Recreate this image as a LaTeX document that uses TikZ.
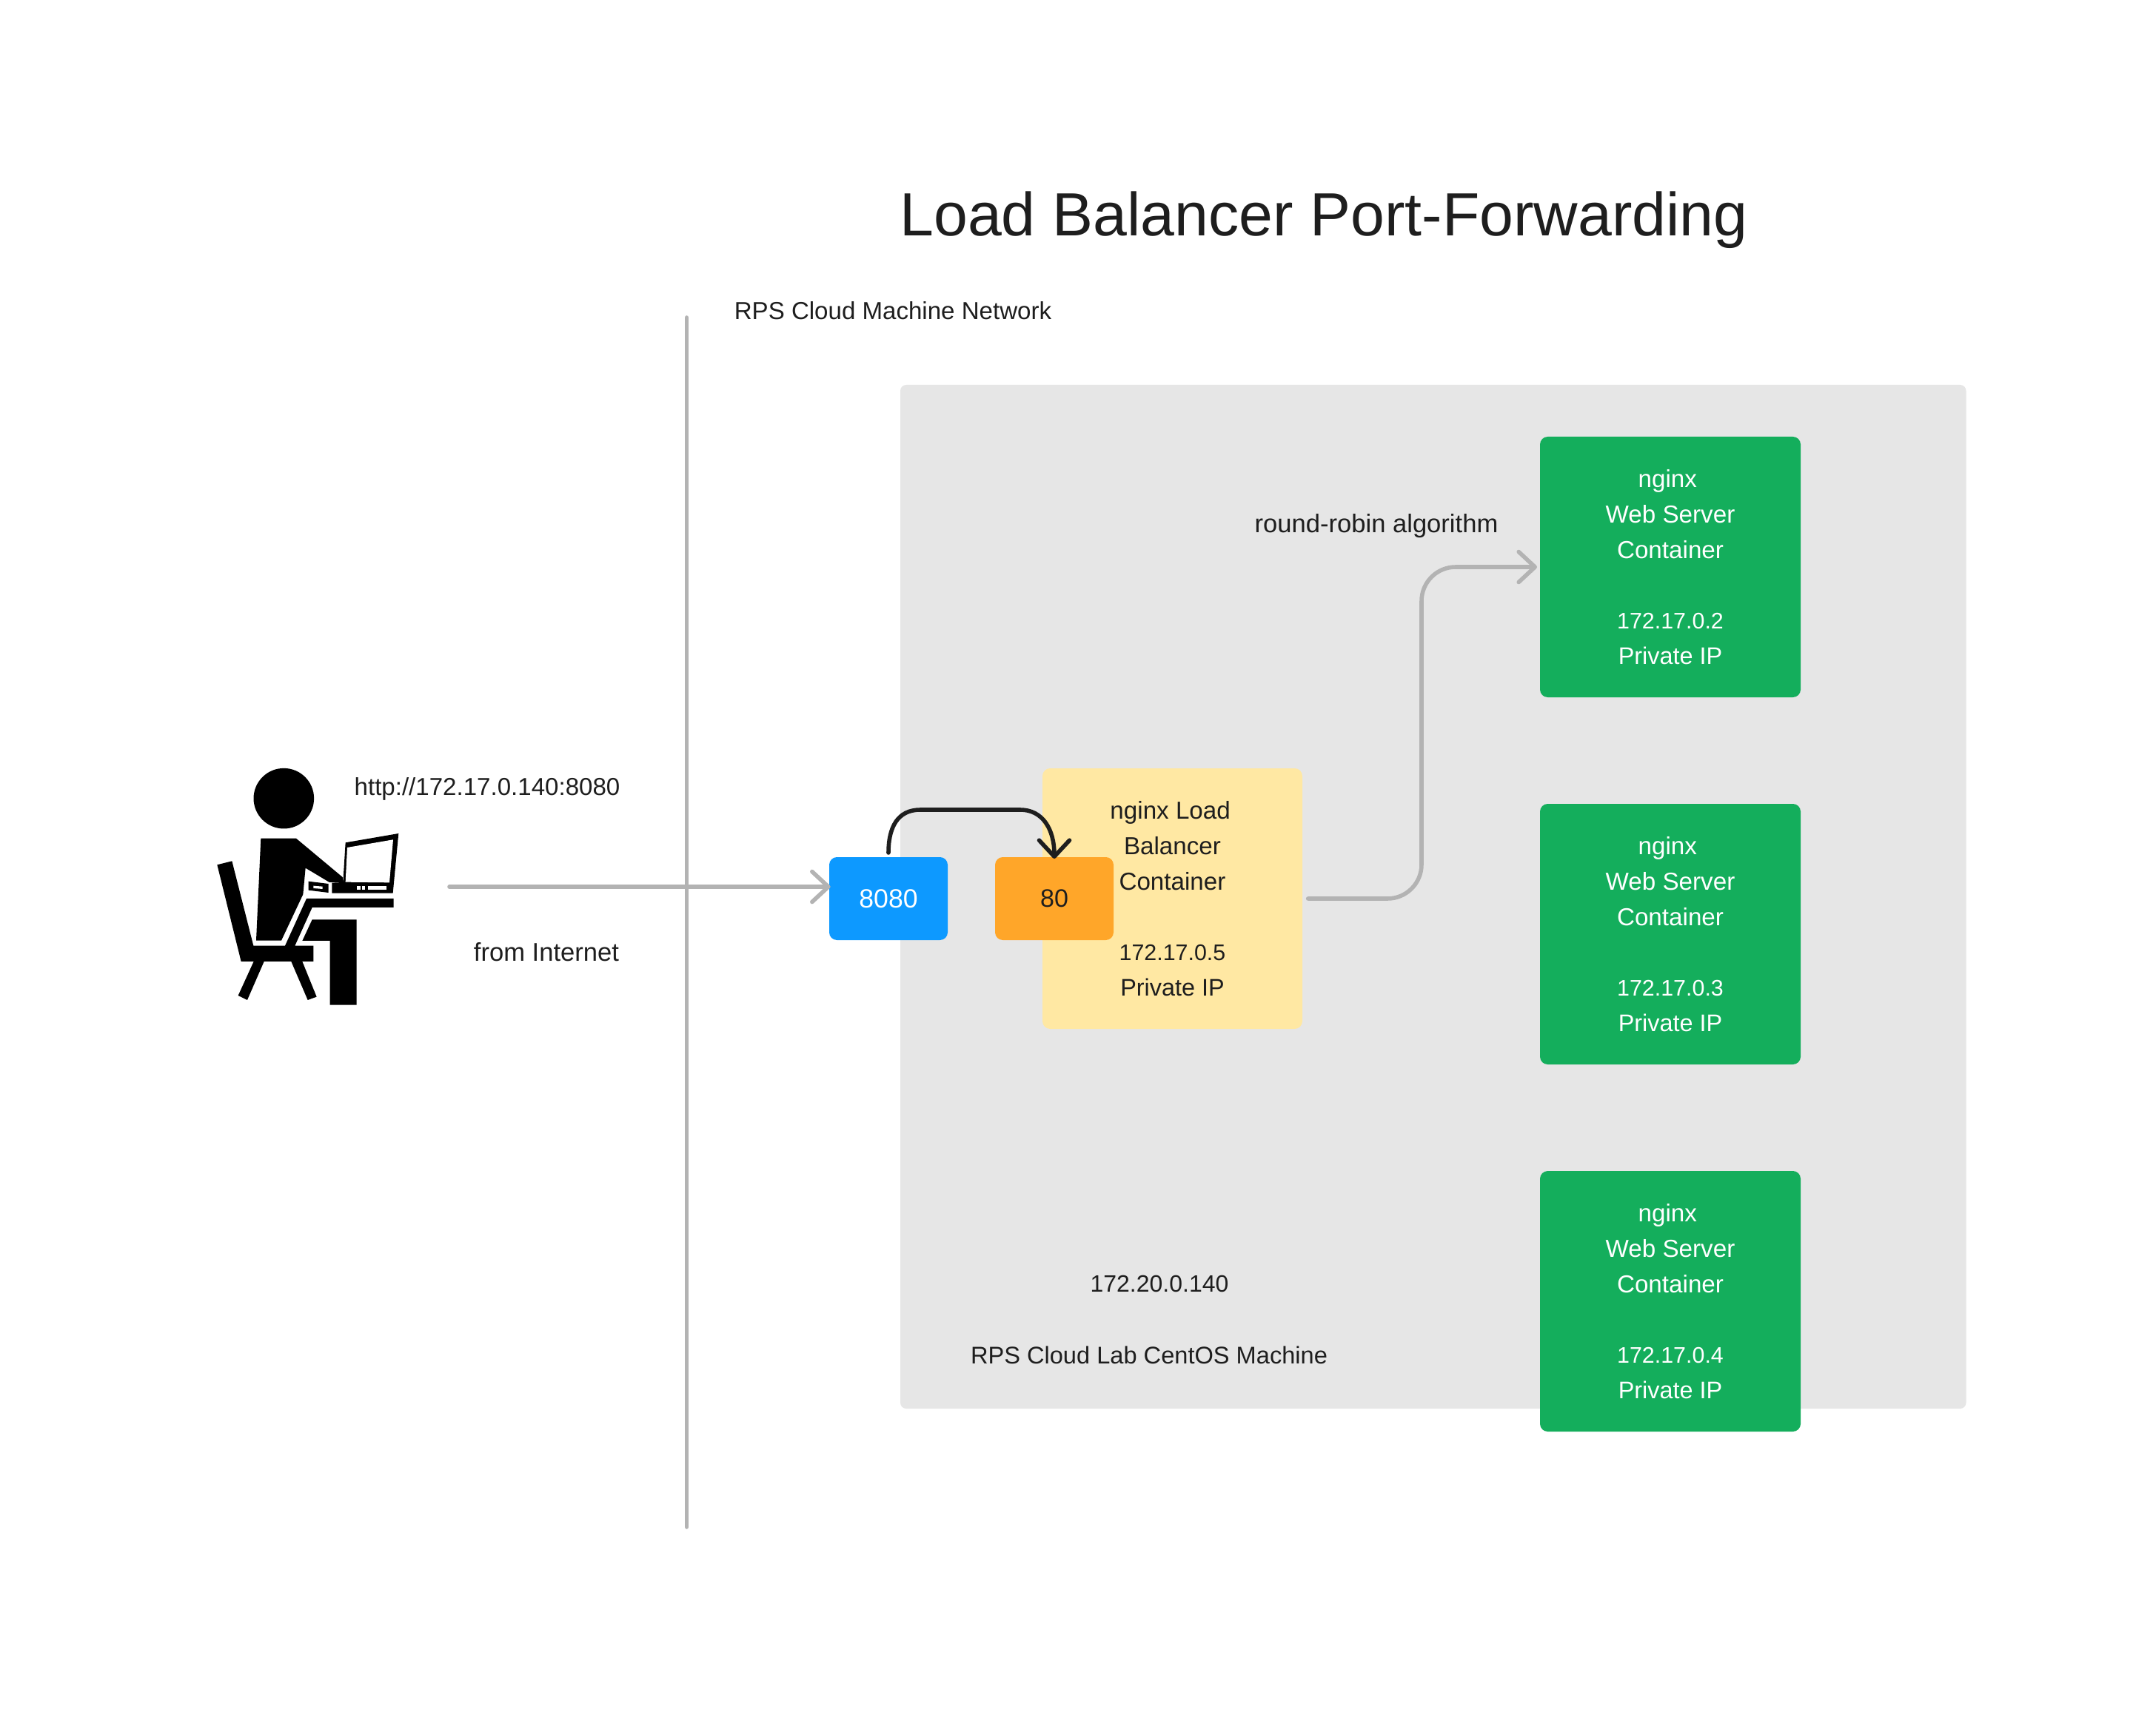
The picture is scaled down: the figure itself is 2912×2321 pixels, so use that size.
\documentclass[tikz,border=0pt]{standalone}
\usepackage{fontspec}
\setmainfont{Liberation Sans}
\usetikzlibrary{arrows.meta}
\definecolor{panel}{HTML}{E6E6E6}
\definecolor{wire}{HTML}{B3B3B3}
\definecolor{ink}{HTML}{1E1E1E}
\definecolor{greenbox}{HTML}{14AE5C}
\definecolor{bluebox}{HTML}{0D99FF}
\definecolor{orangebox}{HTML}{FFA629}
\definecolor{yellowbox}{HTML}{FFE8A3}
\newcommand{\ipline}[1]{{\fontsize{7.6}{11.93}\selectfont #1}}
\newcommand{\privline}{{\fontsize{8.1}{11.93}\selectfont Private IP}}
\tikzset{
  x=0.25pt,y=-0.25pt,
  barb/.tip={Straight Barb[length=5.5pt,width=10.25pt,line cap=round,round]},
  wirepath/.style={draw=wire,line width=1.39pt,line cap=round,line join=round},
  inkpath/.style={draw=ink,line width=1.39pt,line cap=round,line join=round},
  boxbase/.style={inner sep=0pt,outer sep=0pt,rounded corners=2.6pt,align=center,
    font=\fontsize{8.3}{11.93}\selectfont},
  greenstyle/.style={boxbase,fill=greenbox,text=white,minimum width=88pt,minimum height=88pt},
  yellowstyle/.style={boxbase,fill=yellowbox,text=ink,minimum width=87.75pt,minimum height=88pt},
  portstyle/.style={boxbase,minimum width=40pt,minimum height=28pt},
  labelstyle/.style={inner sep=0pt,anchor=base,text=ink,font=\fontsize{8.27}{9}\selectfont},
  iplabelstyle/.style={labelstyle,font=\fontsize{8.0}{9}\selectfont},
  widelabelstyle/.style={labelstyle,font=\fontsize{8.65}{9}\selectfont},
  lablabelstyle/.style={labelstyle,font=\fontsize{8.15}{9}\selectfont},
  titlestyle/.style={inner sep=0pt,anchor=base,text=ink,font=\fontsize{20.6}{28}\selectfont},
  figure/.style={fill=black,draw=none}
}
\begin{document}
\begin{tikzpicture}
\useasboundingbox (0,0) rectangle (2912,2321);
\fill[white] (0,0) rectangle (2912,2321);

% panel and network line
\node[fill=panel,rounded corners=2pt,inner sep=0pt,minimum width=359.875pt,minimum height=345.75pt] (machine) at (1935.75,1211.5) {};
\coordinate (nettop) at (927.5,429);
\coordinate (netbot) at (927.5,2063);
\draw[wirepath] (nettop) -- (netbot);

% text labels
\node[titlestyle] (title) at (1788,319) {Load Balancer Port-Forwarding};
\node[labelstyle] (netlabel) at (1206,432) {RPS Cloud Machine Network};
\node[widelabelstyle] (rrlabel) at (1859,719) {round-robin algorithm};
\node[labelstyle] (urllabel) at (658,1074) {http://172.17.0.140:8080};
\node[widelabelstyle] (fromlabel) at (738,1298) {from Internet};
\node[iplabelstyle] (iplabel) at (1566,1745) {172.20.0.140};
\node[lablabelstyle] (lablabel) at (1552,1842) {RPS Cloud Lab CentOS Machine};

% boxes
\node[yellowstyle] (lb) at (1583.5,1214) {nginx Load\hspace*{1.4pt}\\Balancer\\Container\\[11.93pt]\ipline{172.17.0.5}\\\privline};
\node[greenstyle] (web1) at (2256,766) {nginx\hspace*{1.85pt}\\Web Server\\Container\\[11.93pt]\ipline{172.17.0.2}\\\privline};
\node[greenstyle] (web2) at (2256,1262) {nginx\hspace*{1.85pt}\\Web Server\\Container\\[11.93pt]\ipline{172.17.0.3}\\\privline};
\node[greenstyle] (web3) at (2256,1758) {nginx\hspace*{1.85pt}\\Web Server\\Container\\[11.93pt]\ipline{172.17.0.4}\\\privline};
\node[portstyle,fill=bluebox,text=white,font=\fontsize{8.9}{11.93}\selectfont] (p8080) at (1200,1214) {8080};
\node[portstyle,fill=orangebox,text=ink,font=\fontsize{8.5}{11.93}\selectfont] (p80) at (1424,1214) {80};

% connectors
\coordinate (inet) at (607,1198);
\draw[wirepath,-{barb},shorten >=-0.4pt] (inet) -- (inet -| p8080.west);
\coordinate (elbow) at (1920,1214);
\draw[wirepath,-{barb},rounded corners=11.5pt,shorten <=1.9pt,shorten >=1pt] (lb.east) -- (elbow) |- (web1.west);
\coordinate (hopL) at (1243,1094);
\coordinate (hopR) at (1378,1094);
\draw[inkpath,-{barb}] ([yshift=1.5pt]p8080.north) .. controls (1200,1118) and (1212,1094) .. (hopL) -- (hopR) .. controls (1408,1094) and (1424,1120) .. ([yshift=-0.5pt]p80.north);

% seated person at a laptop
\begin{scope}[shift={(270,1010)},x=0.083333pt,y=-0.083333pt]
  \fill[figure] (340,206) circle[radius=10.2pt];
  % torso and arm
  \fill[figure] (247,368) -- (390,368) -- (578,525) -- (582,546) -- (525,546) -- (428,488) -- (418,595) -- (330,782) -- (228,782) -- cycle;
  % laptop
  \fill[figure] (590,385) -- (805,348) -- (782,590) -- (535,590) -- (535,548) -- (580,546) -- cycle;
  \fill[white] (597,405) -- (783,373) -- (768,547) -- (590,545) -- cycle;
  \fill[white] (637,562) -- (755,562) -- (755,575) -- (637,575) -- cycle;
  \fill[figure] (652,562) -- (656,562) -- (656,575) -- (652,575) -- cycle;
  \fill[figure] (668,562) -- (682,562) -- (682,575) -- (668,575) -- cycle;
  % small pad under the hand
  \fill[figure] (440,542) -- (521,552) -- (521,588) -- (440,578) -- cycle;
  \fill[white] (460,560) -- (497,563) -- (497,573) -- (460,570) -- cycle;
  % desk and chair
  \fill[figure] (432,612) -- (785,612) -- (785,648) -- (455,648) -- (385,803) -- (460,803) -- (460,867) -- (415,867) -- (473,1010) -- (437,1023) -- (370,867) -- (260,867) -- (192,1023) -- (155,1005) -- (218,867) -- (167,867) -- (70,475) -- (130,460) -- (217,803) -- (345,803) -- cycle;
  % leg
  \fill[figure] (455,697) -- (635,697) -- (635,1043) -- (527,1043) -- (527,783) -- (415,783) -- cycle;
\end{scope}
\end{tikzpicture}
\end{document}
